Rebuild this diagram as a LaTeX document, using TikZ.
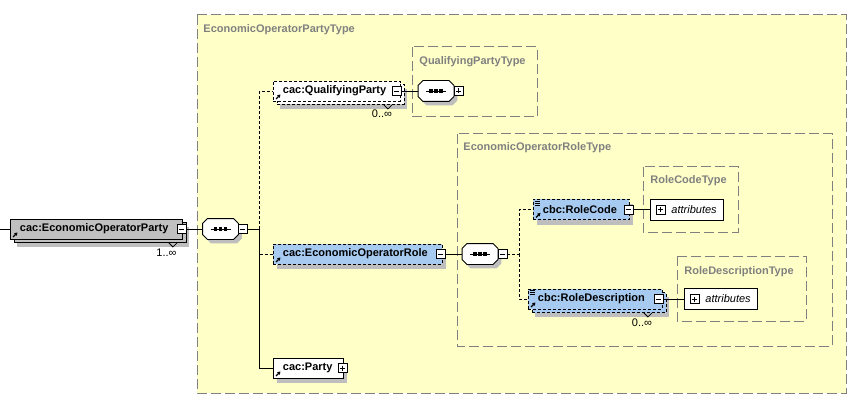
\documentclass[tikz,border=0pt]{standalone}
\usepackage{fontspec}
\setmainfont{Liberation Sans}
\usetikzlibrary{shadows,arrows.meta}
\definecolor{xsyellow}{RGB}{255,255,200}
\definecolor{xsblue}{RGB}{166,202,240}
\definecolor{xsgray}{RGB}{192,192,192}
\definecolor{xsshade}{RGB}{190,190,190}
\definecolor{xsline}{RGB}{128,128,128}
\hyphenpenalty=10000
\begin{document}
\begin{tikzpicture}[x=1pt,y=-1pt,line width=0.9pt,
every node/.style={font=\fontsize{11}{13}\selectfont},
elembox/.style={draw,rectangle,anchor=west,minimum height=20pt,inner xsep=9.5pt,inner ysep=0pt,align=left,fill=white,font=\fontsize{11}{13}\selectfont\bfseries},
optbox/.style={elembox,dash pattern=on 3pt off 2pt},
boxshadow/.style={general shadow={fill=xsshade,draw=none,shadow xshift=4pt,shadow yshift=-5pt}},
stacked/.style={general shadow={fill=xsshade,draw=none,shadow xshift=7pt,shadow yshift=-8pt},copy shadow={shadow xshift=3.5pt,shadow yshift=-3.5pt}},
togglebox/.style={draw,solid,fill=white,rectangle,minimum size=9pt,inner sep=0pt,line width=0.8pt},
minusbox/.style={togglebox,path picture={\draw[line width=0.8pt,shorten <=2pt,shorten >=2pt] (path picture bounding box.west) -- (path picture bounding box.east);}},
plusbox/.style={togglebox,path picture={\draw[line width=0.8pt,shorten <=2pt,shorten >=2pt] (path picture bounding box.west) -- (path picture bounding box.east);
  \draw[line width=0.8pt,shorten <=2pt,shorten >=2pt] (path picture bounding box.north) -- (path picture bounding box.south);}},
seqbox/.style={rectangle,minimum width=35pt,minimum height=20pt,inner sep=0pt},
octpath/.style={insert path={([xshift=5pt]#1.north west) -- ([xshift=-5pt]#1.north east) -- ([yshift=-5pt]#1.north east)
  -- ([yshift=5pt]#1.south east) -- ([xshift=-5pt]#1.south east) -- ([xshift=5pt]#1.south west)
  -- ([yshift=5pt]#1.south west) -- ([yshift=-5pt]#1.north west) -- cycle}},
attrbox/.style={draw,solid,fill=white,anchor=west,minimum height=21pt,inner xsep=21pt,inner ysep=0pt,text width=31pt,align=left,font=\fontsize{11}{13}\selectfont\itshape},
typebox/.style={draw=xsline,dash pattern=on 10pt off 4pt,line width=1pt},
typename/.style={anchor=base west,inner sep=0pt,text=xsline,font=\fontsize{11}{13}\selectfont\bfseries},
refarrow/.style={-{Triangle[length=3pt,width=3.5pt]},line width=1.2pt,solid},
notch/.style={line width=0.8pt,solid}]
\useasboundingbox (0,0) rectangle (852,401);
\fill[xsyellow] (197,15) rectangle (846,393);
\draw[typebox] (197,15) rectangle (846,393);
\draw (203,33) node[typename] (eoptname) {EconomicOperatorPartyType};
\draw[typebox] (412,47) rectangle (537,117);
\draw (419,65) node[typename] (qptname) {QualifyingPartyType};
\draw[typebox] (457,134) rectangle (832,346);
\draw (463,151) node[typename] (eortname) {EconomicOperatorRoleType};
\draw[typebox] (643,167) rectangle (738,232);
\draw (650,184) node[typename] (rctname) {RoleCodeType};
\draw[typebox] (677,256) rectangle (806,321);
\draw (684,274) node[typename] (rdtname) {RoleDescriptionType};

\draw (10,229) node[elembox,fill=xsgray,stacked,text width=153pt] (eop) {cac:EconomicOperatorParty};
\draw (273,91) node[optbox,stacked,text width=108pt] (qp) {cac:QualifyingParty};
\draw (273,254) node[optbox,boxshadow,fill=xsblue,text width=150pt] (eor) {cac:EconomicOperatorRole};
\draw (273,368) node[elembox,boxshadow,text width=51pt] (party) {cac:Party};
\draw (533,209.5) node[optbox,boxshadow,fill=xsblue,text width=77pt] (rc) {cbc:RoleCode};
\draw (528,299) node[optbox,stacked,fill=xsblue,text width=115pt] (rd) {cbc:RoleDescription};

\draw (220.5,229) node[seqbox] (seq1) {};
\draw (436,91) node[seqbox] (seq2) {};
\draw (480,254) node[seqbox] (seq3) {};
\foreach \n in {seq1,seq2,seq3} {
  \fill[xsshade,transform canvas={shift={(3.5pt,-4pt)}}] [octpath=\n];
  \draw[fill=white] [octpath=\n];
  \draw[line width=0.8pt] ([xshift=-10pt]\n.center) -- ([xshift=10pt]\n.center);
  \foreach \d in {-5,0,5} \fill[black] ([xshift=\d pt]\n.center) +(-1.6,-1.6) rectangle +(1.6,1.6);
}

\draw ([xshift=-1pt]eop.east) node[minusbox] (eopm) {};
\draw ([xshift=-4pt]qp.east) node[minusbox] (qpm) {};
\draw ([xshift=-2pt]eor.east) node[minusbox] (eorm) {};
\draw ([xshift=-1.5pt]party.east) node[plusbox] (partym) {};
\draw ([xshift=-1pt]rc.east) node[minusbox] (rcm) {};
\draw ([xshift=-4.5pt]rd.east) node[minusbox] (rdm) {};
\draw ([xshift=4.5pt]seq1.east) node[minusbox] (seq1m) {};
\draw ([xshift=4.5pt]seq2.east) node[plusbox] (seq2m) {};
\draw ([xshift=4.5pt]seq3.east) node[minusbox] (seq3m) {};

\draw (650,209.5) node[attrbox] (rcattr) {attributes};
\draw ([xshift=10.5pt]rcattr.west) node[plusbox] (rcattrp) {};
\draw (684,299) node[attrbox] (rdattr) {attributes};
\draw ([xshift=10.5pt]rdattr.west) node[plusbox] (rdattrp) {};

\draw (166.5,253) node (eopocc) {1..∞};
\draw (382,114) node (qpocc) {0..∞};
\draw (642,323) node (rdocc) {0..∞};
\draw[notch] ([xshift=-14pt,yshift=-3.5pt]eop.south east) -- ++(4,4) -- ++(4,-4);
\draw[notch] ([xshift=-17pt,yshift=-3.5pt]qp.south east) -- ++(4,4) -- ++(4,-4);
\draw[notch] ([xshift=-19pt,yshift=-3.5pt]rd.south east) -- ++(4,4) -- ++(4,-4);

\coordinate (in) at (0,229);
\draw (in) -- (eop.west);
\draw (eopm.east) -- (seq1.west);
\draw (seq1m.east) -- ++(12,0) coordinate (fork1);
\draw[densely dashed] (fork1) |- (qp.west);
\draw (fork1) |- (party.west);
\draw[densely dashed] (fork1 |- eor.west) -- (eor.west);
\draw (qpm.east) -- (seq2.west);
\draw (eorm.east) -- (seq3.west);
\draw[densely dashed] (seq3m.east) -- ++(12,0) coordinate (fork2) |- (rc.west);
\draw[densely dashed] (fork2) |- (rd.west);
\draw (rcm.east) -- (rcattr.west);
\draw (rdm.east) -- (rdattr.west);

\foreach \n in {eop,qp,eor,party,rc,rd}
  \draw[refarrow] ([xshift=3pt,yshift=2.5pt]\n.south west) -- ++(4.5,-4.5);
\foreach \n in {rc,rd}
  \foreach \k in {2,4,6}
    \draw[line width=0.7pt,solid] ([xshift=1.5pt,yshift=-\k pt]\n.north west) -- ++(5,0);
\end{tikzpicture}
\end{document}
